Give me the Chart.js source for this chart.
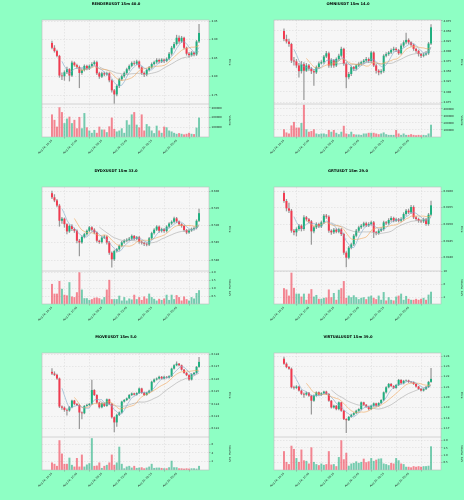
<!DOCTYPE html>
<html>
<head>
<meta charset="utf-8">
<script src="https://cdn.jsdelivr.net/npm/chart.js@4.4.1/dist/chart.umd.min.js"></script>
<style>
  html, body { margin: 0; padding: 0; background: #8effc4; }
  #wrap { position: relative; width: 464px; height: 500px; }
  canvas { position: absolute; }
</style>
</head>
<body>
<div id="wrap">
  <canvas id="c0" width="232" height="166" style="left:0;top:0"></canvas>
  <canvas id="c1" width="232" height="166" style="left:232px;top:0"></canvas>
  <canvas id="c2" width="232" height="166" style="left:0;top:167px"></canvas>
  <canvas id="c3" width="232" height="166" style="left:232px;top:167px"></canvas>
  <canvas id="c4" width="232" height="166" style="left:0;top:333px"></canvas>
  <canvas id="c5" width="232" height="166" style="left:232px;top:333px"></canvas>
</div>
<script>
// ---- datos comunes ----
const titles = ['RENDERUSDT 15m 40.0', 'OMNIUSDT 15m 14.0', 'DYDXUSDT 15m 33.0',
                'GRTUSDT 15m 29.0', 'MOVEUSDT 15m 5.0', 'VIRTUALUSDT 15m 39.0'];
const timeLabels = ['Aug 24, 15:15', 'Aug 24, 17:45', 'Aug 24, 20:15',
                    'Aug 24, 22:45', 'Aug 25, 01:15', 'Aug 25, 03:45'];
const xTickIdx = [0, 10, 20, 30, 40, 50];
const maPeriods = [5, 10, 20];

// ---- RENDER ----
const renderOpen0 = 3.891;
const renderClose = [3.878, 3.869, 3.856, 3.803, 3.801, 3.812, 3.820, 3.803, 3.838, 3.831,
  3.826, 3.810, 3.818, 3.829, 3.822, 3.829, 3.834, 3.839, 3.809, 3.800,
  3.809, 3.806, 3.809, 3.790, 3.763, 3.752, 3.775, 3.793, 3.801, 3.810,
  3.820, 3.829, 3.837, 3.835, 3.841, 3.825, 3.810, 3.806, 3.818, 3.825,
  3.834, 3.839, 3.845, 3.841, 3.846, 3.842, 3.848, 3.862, 3.878, 3.888,
  3.905, 3.895, 3.905, 3.878, 3.862, 3.858, 3.865, 3.860, 3.895, 3.918];
const renderHigh = [3.896, 3.884, 3.872, 3.858, 3.810, 3.816, 3.826, 3.822, 3.842, 3.840,
  3.834, 3.829, 3.822, 3.832, 3.831, 3.832, 3.838, 3.843, 3.842, 3.812,
  3.812, 3.812, 3.812, 3.811, 3.792, 3.766, 3.778, 3.796, 3.804, 3.813,
  3.823, 3.832, 3.840, 3.842, 3.845, 3.843, 3.827, 3.813, 3.821, 3.828,
  3.837, 3.842, 3.849, 3.848, 3.849, 3.848, 3.851, 3.866, 3.882, 3.893,
  3.912, 3.910, 3.909, 3.907, 3.880, 3.866, 3.868, 3.867, 3.898, 3.941];
const renderLow = [3.875, 3.866, 3.853, 3.798, 3.792, 3.790, 3.808, 3.788, 3.800, 3.828,
  3.822, 3.770, 3.806, 3.815, 3.818, 3.819, 3.826, 3.831, 3.805, 3.795,
  3.797, 3.802, 3.803, 3.786, 3.758, 3.728, 3.748, 3.770, 3.790, 3.798,
  3.807, 3.817, 3.826, 3.831, 3.832, 3.822, 3.806, 3.800, 3.802, 3.815,
  3.822, 3.831, 3.836, 3.837, 3.838, 3.838, 3.840, 3.845, 3.858, 3.875,
  3.885, 3.890, 3.892, 3.875, 3.858, 3.852, 3.855, 3.856, 3.857, 3.892];
const renderVolume = [233000, 177000, 107000, 307000, 257000, 143000, 190000, 210000, 143000, 177000,
  90000, 207000, 90000, 247000, 100000, 67000, 43000, 73000, 43000, 107000,
  77000, 77000, 50000, 110000, 200000, 83000, 57000, 67000, 90000, 43000,
  173000, 127000, 233000, 257000, 127000, 100000, 233000, 67000, 133000, 110000,
  67000, 40000, 117000, 67000, 43000, 107000, 100000, 67000, 57000, 43000,
  33000, 40000, 33000, 27000, 33000, 43000, 33000, 30000, 97000, 200000];
const renderPriceTicks = [3.75, 3.80, 3.85, 3.90, 3.95];
const renderVolTicks = [100000, 200000, 300000];

// ---- OMNI ----
const omniOpen0 = 4.050;
const omniClose = [4.030, 4.024, 4.018, 3.977, 3.975, 3.965, 3.951, 3.968, 3.952, 3.965,
  3.957, 3.951, 3.948, 3.961, 3.970, 3.973, 3.987, 3.995, 3.965, 3.978,
  3.965, 3.981, 3.989, 4.006, 3.969, 3.936, 3.944, 3.961, 3.957, 3.965,
  3.969, 3.973, 3.977, 3.981, 3.976, 3.997, 3.965, 3.952, 3.948, 3.951,
  3.989, 3.993, 3.997, 4.003, 4.006, 4.003, 3.995, 4.014, 4.022, 4.028,
  4.022, 4.016, 4.006, 4.001, 3.993, 3.989, 3.992, 3.995, 4.019, 4.059];
const omniHigh = [4.055, 4.040, 4.030, 4.020, 3.985, 3.980, 3.970, 3.975, 3.972, 3.970,
  3.968, 3.960, 3.955, 3.964, 3.974, 3.977, 3.990, 4.000, 3.998, 3.982,
  3.980, 3.984, 3.993, 4.010, 4.008, 3.972, 3.948, 3.964, 3.963, 3.968,
  3.972, 3.976, 3.980, 3.985, 3.984, 4.000, 3.999, 3.968, 3.955, 3.955,
  3.992, 3.997, 4.000, 4.006, 4.010, 4.009, 4.005, 4.018, 4.026, 4.045,
  4.031, 4.024, 4.018, 4.008, 4.003, 3.995, 3.995, 3.999, 4.022, 4.066];
const omniLow = [4.026, 4.020, 4.012, 3.972, 3.966, 3.960, 3.936, 3.946, 3.881, 3.950,
  3.953, 3.945, 3.916, 3.945, 3.958, 3.968, 3.970, 3.984, 3.960, 3.960,
  3.960, 3.962, 3.978, 3.986, 3.965, 3.910, 3.932, 3.940, 3.952, 3.954,
  3.962, 3.966, 3.970, 3.974, 3.972, 3.972, 3.962, 3.946, 3.942, 3.944,
  3.948, 3.986, 3.990, 3.994, 4.000, 3.999, 3.992, 3.993, 4.010, 4.018,
  4.018, 4.012, 4.002, 3.997, 3.988, 3.984, 3.986, 3.990, 3.992, 4.016];
const omniVolume = [110000, 65000, 50000, 165000, 215000, 135000, 135000, 200000, 460000, 110000,
  75000, 85000, 110000, 50000, 40000, 50000, 50000, 40000, 100000, 75000,
  100000, 60000, 40000, 75000, 160000, 50000, 40000, 75000, 40000, 35000,
  35000, 30000, 50000, 50000, 60000, 60000, 60000, 50000, 40000, 50000,
  65000, 40000, 30000, 30000, 30000, 100000, 50000, 30000, 50000, 30000,
  30000, 40000, 30000, 25000, 30000, 25000, 30000, 25000, 50000, 175000];
const omniPriceTicks = [3.875, 3.900, 3.925, 3.950, 3.975, 4.000, 4.025, 4.050, 4.075];
const omniVolTicks = [100000, 200000, 300000, 400000];

// ---- DYDX (volumen en 1e5) ----
const dydxOpen0 = 0.5994;
const dydxClose = [0.5982, 0.5973, 0.5958, 0.5914, 0.5920, 0.5904, 0.5883, 0.5899, 0.5890, 0.5885,
  0.5856, 0.5851, 0.5867, 0.5875, 0.5885, 0.5895, 0.5888, 0.5880, 0.5856, 0.5852,
  0.5865, 0.5868, 0.5851, 0.5821, 0.5802, 0.5826, 0.5831, 0.5841, 0.5851, 0.5856,
  0.5859, 0.5862, 0.5870, 0.5862, 0.5866, 0.5853, 0.5850, 0.5847, 0.5845, 0.5863,
  0.5878, 0.5888, 0.5897, 0.5885, 0.5890, 0.5884, 0.5897, 0.5906, 0.5911, 0.5921,
  0.5912, 0.5904, 0.5899, 0.5887, 0.5880, 0.5886, 0.5890, 0.5893, 0.5914, 0.5936];
const dydxHigh = [0.6000, 0.5990, 0.5976, 0.5962, 0.5924, 0.5922, 0.5906, 0.5902, 0.5903, 0.5893,
  0.5888, 0.5860, 0.5870, 0.5878, 0.5888, 0.5898, 0.5897, 0.5891, 0.5882, 0.5858,
  0.5868, 0.5872, 0.5870, 0.5854, 0.5824, 0.5829, 0.5834, 0.5844, 0.5854, 0.5859,
  0.5862, 0.5866, 0.5873, 0.5872, 0.5869, 0.5869, 0.5856, 0.5852, 0.5850, 0.5866,
  0.5881, 0.5891, 0.5900, 0.5899, 0.5893, 0.5892, 0.5900, 0.5909, 0.5914, 0.5925,
  0.5924, 0.5914, 0.5906, 0.5901, 0.5889, 0.5889, 0.5893, 0.5896, 0.5917, 0.5948];
const dydxLow = [0.5978, 0.5969, 0.5954, 0.5898, 0.5906, 0.5895, 0.5876, 0.5880, 0.5885, 0.5880,
  0.5850, 0.5812, 0.5848, 0.5864, 0.5872, 0.5882, 0.5884, 0.5876, 0.5852, 0.5848,
  0.5849, 0.5862, 0.5846, 0.5816, 0.5779, 0.5798, 0.5823, 0.5828, 0.5838, 0.5848,
  0.5853, 0.5856, 0.5858, 0.5858, 0.5859, 0.5848, 0.5846, 0.5842, 0.5841, 0.5842,
  0.5860, 0.5875, 0.5885, 0.5880, 0.5881, 0.5880, 0.5881, 0.5894, 0.5903, 0.5908,
  0.5908, 0.5900, 0.5895, 0.5883, 0.5876, 0.5877, 0.5883, 0.5887, 0.5890, 0.5911];
const dydxVolume = [1.28, 0.66, 0.66, 1.47, 0.97, 0.59, 0.55, 1.39, 0.48, 0.44,
  0.75, 2.02, 0.92, 0.37, 0.37, 0.26, 0.31, 0.40, 0.42, 0.37,
  0.29, 0.44, 0.92, 1.54, 0.31, 0.31, 0.31, 0.53, 0.22, 0.44,
  0.22, 0.35, 0.29, 0.59, 0.31, 0.44, 0.26, 0.48, 0.35, 0.66,
  0.44, 0.33, 0.22, 0.33, 0.26, 0.35, 0.59, 0.26, 0.59, 0.31,
  0.57, 0.44, 0.22, 0.48, 0.31, 0.22, 0.44, 0.35, 0.70, 0.88];
const dydxPriceTicks = [0.580, 0.585, 0.590, 0.595, 0.600];
const dydxVolTicks = [0.5, 1.0, 1.5, 2.0];

// ---- GRT (volumen en 1e5) ----
const grtOpen0 = 0.09594;
const grtClose = [0.09570, 0.09548, 0.09541, 0.09481, 0.09476, 0.09486, 0.09496, 0.09486, 0.09521, 0.09515,
  0.09509, 0.09479, 0.09491, 0.09501, 0.09494, 0.09506, 0.09526, 0.09523, 0.09481, 0.09476,
  0.09484, 0.09478, 0.09485, 0.09471, 0.09415, 0.09400, 0.09430, 0.09440, 0.09466, 0.09481,
  0.09491, 0.09496, 0.09503, 0.09497, 0.09501, 0.09506, 0.09476, 0.09474, 0.09481, 0.09486,
  0.09506, 0.09503, 0.09513, 0.09519, 0.09511, 0.09515, 0.09511, 0.09516, 0.09531, 0.09541,
  0.09536, 0.09552, 0.09521, 0.09516, 0.09511, 0.09509, 0.09515, 0.09501, 0.09529, 0.09557];
const grtHigh = [0.09600, 0.09575, 0.09564, 0.09545, 0.09485, 0.09490, 0.09500, 0.09499, 0.09526, 0.09524,
  0.09518, 0.09512, 0.09495, 0.09505, 0.09504, 0.09510, 0.09530, 0.09530, 0.09526, 0.09484,
  0.09488, 0.09487, 0.09489, 0.09488, 0.09474, 0.09418, 0.09434, 0.09444, 0.09470, 0.09485,
  0.09495, 0.09500, 0.09507, 0.09507, 0.09505, 0.09510, 0.09509, 0.09479, 0.09485, 0.09490,
  0.09510, 0.09509, 0.09517, 0.09523, 0.09522, 0.09519, 0.09518, 0.09520, 0.09535, 0.09545,
  0.09546, 0.09557, 0.09556, 0.09524, 0.09519, 0.09514, 0.09519, 0.09518, 0.09533, 0.09570];
const grtLow = [0.09566, 0.09540, 0.09535, 0.09476, 0.09468, 0.09465, 0.09482, 0.09480, 0.09482, 0.09510,
  0.09504, 0.09440, 0.09474, 0.09487, 0.09490, 0.09490, 0.09502, 0.09518, 0.09476, 0.09470,
  0.09472, 0.09474, 0.09474, 0.09466, 0.09410, 0.09372, 0.09396, 0.09426, 0.09436, 0.09462,
  0.09477, 0.09487, 0.09492, 0.09493, 0.09493, 0.09497, 0.09460, 0.09468, 0.09470, 0.09478,
  0.09482, 0.09499, 0.09500, 0.09509, 0.09507, 0.09508, 0.09507, 0.09507, 0.09512, 0.09527,
  0.09532, 0.09532, 0.09517, 0.09512, 0.09506, 0.09505, 0.09505, 0.09497, 0.09497, 0.09525];
const grtVolume = [4.9, 4.5, 2.6, 9.7, 5.0, 3.2, 3.2, 2.3, 3.2, 1.3,
  3.2, 4.6, 2.3, 2.8, 1.6, 1.6, 1.9, 2.0, 4.5, 2.1,
  3.4, 1.3, 4.4, 4.9, 7.1, 1.9, 2.6, 2.1, 2.7, 2.1,
  1.5, 1.9, 2.1, 1.5, 2.3, 2.6, 1.9, 1.5, 2.6, 1.3,
  3.7, 1.1, 2.1, 1.3, 1.1, 2.3, 2.6, 3.2, 1.3, 2.5,
  1.6, 1.3, 1.3, 1.6, 1.3, 1.6, 1.9, 1.3, 2.9, 3.8];
const grtPriceTicks = [0.0940, 0.0945, 0.0950, 0.0955, 0.0960];
const grtVolTicks = [2, 4, 6, 8, 10];

// ---- MOVE (volumen en 1e5) ----
const moveOpen0 = 0.12659;
const moveClose = [0.12645, 0.12635, 0.12605, 0.12379, 0.12370, 0.12352, 0.12347, 0.12373, 0.12427, 0.12400,
  0.12392, 0.12331, 0.12325, 0.12384, 0.12392, 0.12400, 0.12512, 0.12472, 0.12411, 0.12373,
  0.12405, 0.12384, 0.12437, 0.12400, 0.12293, 0.12251, 0.12312, 0.12331, 0.12419, 0.12432,
  0.12445, 0.12472, 0.12485, 0.12475, 0.12488, 0.12525, 0.12490, 0.12472, 0.12491, 0.12507,
  0.12579, 0.12597, 0.12605, 0.12619, 0.12605, 0.12619, 0.12613, 0.12624, 0.12685, 0.12712,
  0.12725, 0.12712, 0.12677, 0.12651, 0.12632, 0.12597, 0.12640, 0.12651, 0.12699, 0.12739];
const moveHigh = [0.12685, 0.12660, 0.12640, 0.12610, 0.12385, 0.12378, 0.12360, 0.12380, 0.12432, 0.12430,
  0.12405, 0.12398, 0.12336, 0.12388, 0.12398, 0.12405, 0.12592, 0.12515, 0.12475, 0.12415,
  0.12410, 0.12410, 0.12442, 0.12440, 0.12405, 0.12296, 0.12318, 0.12336, 0.12424, 0.12437,
  0.12450, 0.12477, 0.12490, 0.12488, 0.12492, 0.12530, 0.12528, 0.12495, 0.12496, 0.12512,
  0.12584, 0.12602, 0.12610, 0.12624, 0.12622, 0.12624, 0.12622, 0.12628, 0.12690, 0.12718,
  0.12740, 0.12728, 0.12715, 0.12680, 0.12655, 0.12636, 0.12645, 0.12656, 0.12703, 0.12776];
const moveLow = [0.12636, 0.12628, 0.12598, 0.12370, 0.12355, 0.12340, 0.12310, 0.12340, 0.12368, 0.12392,
  0.12386, 0.12200, 0.12280, 0.12320, 0.12380, 0.12386, 0.12395, 0.12466, 0.12405, 0.12365,
  0.12368, 0.12378, 0.12380, 0.12394, 0.12286, 0.12175, 0.12219, 0.12306, 0.12325, 0.12414,
  0.12426, 0.12440, 0.12466, 0.12470, 0.12470, 0.12483, 0.12485, 0.12466, 0.12468, 0.12486,
  0.12502, 0.12574, 0.12592, 0.12600, 0.12600, 0.12600, 0.12608, 0.12608, 0.12620, 0.12680,
  0.12707, 0.12706, 0.12672, 0.12646, 0.12627, 0.12590, 0.12592, 0.12635, 0.12646, 0.12694];
const moveVolume = [1.76, 1.44, 0.96, 6.96, 3.84, 1.44, 1.44, 2.88, 1.20, 0.80,
  2.80, 0.80, 3.60, 0.80, 1.28, 1.60, 7.44, 0.96, 1.04, 1.76,
  0.48, 0.96, 1.20, 1.76, 3.60, 1.20, 1.76, 5.44, 1.44, 0.40,
  0.80, 0.96, 0.56, 0.96, 0.48, 0.56, 0.64, 0.40, 0.56, 0.80,
  1.44, 0.48, 0.56, 0.56, 0.48, 0.40, 0.40, 0.64, 2.16, 0.64,
  0.64, 0.40, 0.40, 0.32, 0.40, 0.32, 0.40, 0.40, 0.32, 0.96];
const movePriceTicks = [0.122, 0.123, 0.124, 0.125, 0.126, 0.127, 0.128];
const moveVolTicks = [2, 4, 6];

// ---- VIRTUAL (volumen en 1e5) ----
const virtualOpen0 = 1.2374;
const virtualClose = [1.2325, 1.2293, 1.2277, 1.2098, 1.2092, 1.2105, 1.2066, 1.2035, 1.2027, 1.2045,
  1.2017, 1.1968, 1.2017, 1.2049, 1.2027, 1.2040, 1.2056, 1.2033, 1.1968, 1.1903,
  1.1919, 1.1887, 1.1952, 1.1871, 1.1790, 1.1780, 1.1812, 1.1832, 1.1848, 1.1871,
  1.1887, 1.1952, 1.1929, 1.1910, 1.1887, 1.1919, 1.1942, 1.1920, 1.1945, 1.1975,
  1.2049, 1.2098, 1.2130, 1.2110, 1.2092, 1.2120, 1.2169, 1.2137, 1.2160, 1.2163,
  1.2150, 1.2147, 1.2130, 1.2105, 1.2082, 1.2066, 1.2080, 1.2100, 1.2150, 1.2179];
const virtualHigh = [1.2390, 1.2335, 1.2300, 1.2285, 1.2110, 1.2115, 1.2110, 1.2072, 1.2045, 1.2052,
  1.2050, 1.2022, 1.2025, 1.2055, 1.2055, 1.2046, 1.2062, 1.2060, 1.2040, 1.1972,
  1.1925, 1.1924, 1.1958, 1.1955, 1.1875, 1.1795, 1.1818, 1.1838, 1.1854, 1.1877,
  1.1893, 1.1958, 1.1955, 1.1933, 1.1915, 1.1925, 1.1948, 1.1946, 1.1951, 1.1980,
  1.2055, 1.2104, 1.2136, 1.2135, 1.2115, 1.2126, 1.2175, 1.2172, 1.2166, 1.2170,
  1.2168, 1.2155, 1.2150, 1.2134, 1.2108, 1.2088, 1.2086, 1.2106, 1.2156, 1.2280];
const virtualLow = [1.2318, 1.2285, 1.2270, 1.2090, 1.2080, 1.2085, 1.2060, 1.2025, 1.2000, 1.2020,
  1.2010, 1.1838, 1.1960, 1.2010, 1.2020, 1.2020, 1.2034, 1.2027, 1.1960, 1.1895,
  1.1896, 1.1880, 1.1880, 1.1864, 1.1784, 1.1660, 1.1774, 1.1806, 1.1826, 1.1842,
  1.1865, 1.1880, 1.1922, 1.1904, 1.1880, 1.1882, 1.1912, 1.1914, 1.1914, 1.1940,
  1.1968, 1.2042, 1.2092, 1.2104, 1.2085, 1.2086, 1.2114, 1.2130, 1.2130, 1.2155,
  1.2144, 1.2140, 1.2124, 1.2098, 1.2076, 1.2060, 1.2060, 1.2074, 1.2094, 1.2144];
const virtualVolume = [1.28, 0.55, 0.40, 1.65, 1.43, 0.81, 0.55, 1.39, 0.66, 0.62,
  0.44, 1.54, 0.55, 0.40, 0.33, 0.44, 0.35, 0.40, 1.28, 0.37,
  0.40, 0.26, 0.88, 2.02, 0.73, 1.17, 0.29, 0.44, 0.48, 0.59,
  0.48, 0.55, 0.77, 0.53, 0.59, 0.81, 0.62, 0.70, 0.77, 0.79,
  0.44, 0.40, 0.33, 0.48, 0.44, 0.81, 0.66, 0.44, 0.40, 0.22,
  0.22, 0.18, 0.26, 0.22, 0.26, 0.22, 0.26, 0.26, 0.29, 1.61];
const virtualPriceTicks = [1.17, 1.18, 1.19, 1.20, 1.21, 1.22, 1.23, 1.24];
const virtualVolTicks = [0.5, 1.0, 1.5, 2.0];

// ---- estilo ----
const colores = {
    up: '#1eaf7f',
    down: '#f23a4f',
    upVol: 'rgba(30,175,127,0.6)',
    downVol: 'rgba(242,58,79,0.6)',
    wick: '#9a9a9a',
    ma: ['#7fa7c9', '#f2a65a', '#a9a9a9'],
    grid: '#d6d6d6',
    plotBg: '#f6f6f6',
    frame: '#bdbdbd',
    text: '#222'
};
const tickFont = { family: 'DejaVu Sans', size: 2.7 };

const panels = [
    { canvas: 'c0', title: titles[0], open0: renderOpen0, close: renderClose, high: renderHigh, low: renderLow,
      vol: renderVolume, yMin: 3.726, yMax: 3.953, yTicks: renderPriceTicks, yDec: 2,
      vMax: 340000, vTicks: renderVolTicks, vDec: 0, vTitle: 'Volume' },
    { canvas: 'c1', title: titles[1], open0: omniOpen0, close: omniClose, high: omniHigh, low: omniLow,
      vol: omniVolume, yMin: 3.870, yMax: 4.077, yTicks: omniPriceTicks, yDec: 3,
      vMax: 470000, vTicks: omniVolTicks, vDec: 0, vTitle: 'Volume' },
    { canvas: 'c2', title: titles[2], open0: dydxOpen0, close: dydxClose, high: dydxHigh, low: dydxLow,
      vol: dydxVolume, yMin: 0.5768, yMax: 0.6012, yTicks: dydxPriceTicks, yDec: 3,
      vMax: 2.1, vTicks: dydxVolTicks, vDec: 1, vTitle: 'Volume  1e5' },
    { canvas: 'c3', title: titles[3], open0: grtOpen0, close: grtClose, high: grtHigh, low: grtLow,
      vol: grtVolume, yMin: 0.09360, yMax: 0.09612, yTicks: grtPriceTicks, yDec: 4,
      vMax: 10.2, vTicks: grtVolTicks, vDec: 0, vTitle: 'Volume  1e5' },
    { canvas: 'c4', title: titles[4], open0: moveOpen0, close: moveClose, high: moveHigh, low: moveLow,
      vol: moveVolume, yMin: 0.12133, yMax: 0.12811, yTicks: movePriceTicks, yDec: 3,
      vMax: 7.7, vTicks: moveVolTicks, vDec: 0, vTitle: 'Volume  1e5' },
    { canvas: 'c5', title: titles[5], open0: virtualOpen0, close: virtualClose, high: virtualHigh, low: virtualLow,
      vol: virtualVolume, yMin: 1.1617, yMax: 1.2429, yTicks: virtualPriceTicks, yDec: 2,
      vMax: 2.24, vTicks: virtualVolTicks, vDec: 1, vTitle: 'Volume  1e5' }
];

// ---- auxiliares ----
function aperturas(open0, closes) {
    // la apertura de cada vela es el cierre de la anterior
    return [open0].concat(closes.slice(0, -1));
}

function mediaMovil(closes, n) {
    const out = [];
    for (let i = n - 1; i < closes.length; i++) {
        let s = 0;
        for (let k = i - n + 1; k <= i; k++) s += closes[k];
        out.push({ x: i, y: s / n });
    }
    return out;
}

const marcoPlugin = {
    id: 'marco',
    beforeDraw(chart) {
        const a = chart.chartArea;
        const ctx = chart.ctx;
        ctx.save();
        ctx.fillStyle = colores.plotBg;
        ctx.fillRect(a.left, a.top, a.right - a.left, a.bottom - a.top);
        ctx.restore();
    },
    afterDraw(chart, args, opts) {
        const a = chart.chartArea;
        const ctx = chart.ctx;
        ctx.save();
        ctx.strokeStyle = colores.frame;
        ctx.lineWidth = 0.6;
        ctx.strokeRect(a.left, a.top, a.right - a.left, a.bottom - a.top);
        const ySep = chart.scales.y.bottom;
        ctx.beginPath();
        ctx.moveTo(a.left, ySep);
        ctx.lineTo(a.right, ySep);
        ctx.stroke();
        ctx.fillStyle = '#000';
        ctx.font = 'bold 3.7px "DejaVu Sans"';
        ctx.textAlign = 'center';
        ctx.textBaseline = 'middle';
        ctx.fillText(opts.text, chart.width / 2, 3.6);
        ctx.restore();
    }
};

function ejeY(extra) {
    return Object.assign({
        type: 'linear',
        position: 'right',
        stack: 'panel',
        afterFit: s => { s.width = 23; },
        grid: { color: colores.grid, lineWidth: 0.5, tickLength: 1.5, tickColor: '#777', tickWidth: 0.5 },
        border: { display: false, dash: [1.5, 1.5] }
    }, extra);
}

function crearPanel(p) {
    const opens = aperturas(p.open0, p.close);
    const sube = p.close.map((c, i) => c >= opens[i]);
    const cuerpos = p.close.map((c, i) => ({ x: i, y: [opens[i], c] }));
    const mechas = p.close.map((c, i) => ({ x: i, y: [p.low[i], p.high[i]] }));
    const volumen = p.vol.map((v, i) => ({ x: i, y: v }));

    const lineas = maPeriods.map((n, k) => ({
        type: 'line',
        data: mediaMovil(p.close, n),
        yAxisID: 'y',
        borderColor: colores.ma[k],
        borderWidth: 0.6,
        pointRadius: 0,
        tension: 0,
        order: 0
    }));

    new Chart(document.getElementById(p.canvas), {
        type: 'bar',
        data: {
            datasets: lineas.concat([
                {
                    data: cuerpos,
                    yAxisID: 'y',
                    backgroundColor: sube.map(u => u ? colores.up : colores.down),
                    barPercentage: 0.8,
                    categoryPercentage: 1,
                    grouped: false,
                    minBarLength: 0.4,
                    order: 1
                },
                {
                    data: mechas,
                    yAxisID: 'y',
                    backgroundColor: colores.wick,
                    barThickness: 0.6,
                    grouped: false,
                    order: 2
                },
                {
                    data: volumen,
                    yAxisID: 'yv',
                    backgroundColor: sube.map(u => u ? colores.upVol : colores.downVol),
                    barPercentage: 0.8,
                    categoryPercentage: 1,
                    grouped: false,
                    order: 3
                }
            ])
        },
        options: {
            responsive: false,
            animation: false,
            events: [],
            layout: { padding: { left: 42, top: 20, right: 0, bottom: 0 } },
            plugins: {
                legend: { display: false },
                tooltip: { enabled: false },
                marco: { text: p.title }
            },
            scales: {
                x: {
                    type: 'linear',
                    min: -4,
                    max: 63,
                    offset: false,
                    afterBuildTicks: s => { s.ticks = xTickIdx.map(v => ({ value: v })); },
                    afterFit: s => { s.height = 29; },
                    ticks: {
                        autoSkip: false,
                        maxRotation: 45,
                        minRotation: 45,
                        font: tickFont,
                        color: colores.text,
                        padding: 0.5,
                        callback: v => timeLabels[xTickIdx.indexOf(v)]
                    },
                    grid: { color: colores.grid, lineWidth: 0.5, tickLength: 1.5, tickColor: '#777', tickWidth: 0.5 },
                    border: { display: false, dash: [1.5, 1.5] }
                },
                y: ejeY({
                    stackWeight: 2.55,
                    min: p.yMin,
                    max: p.yMax,
                    afterBuildTicks: s => { s.ticks = p.yTicks.map(v => ({ value: v })); },
                    ticks: { font: tickFont, color: colores.text, padding: 1, callback: v => v.toFixed(p.yDec) },
                    title: { display: true, text: 'Price', font: tickFont, color: colores.text, padding: 0.5 }
                }),
                yv: ejeY({
                    stackWeight: 1,
                    min: 0,
                    max: p.vMax,
                    afterBuildTicks: s => { s.ticks = p.vTicks.map(v => ({ value: v })); },
                    ticks: { font: tickFont, color: colores.text, padding: 1, callback: v => v.toFixed(p.vDec) },
                    title: { display: true, text: p.vTitle, font: tickFont, color: colores.text, padding: 0.5 }
                })
            }
        },
        plugins: [marcoPlugin]
    });
}

panels.forEach(crearPanel);
</script>
</body>
</html>
